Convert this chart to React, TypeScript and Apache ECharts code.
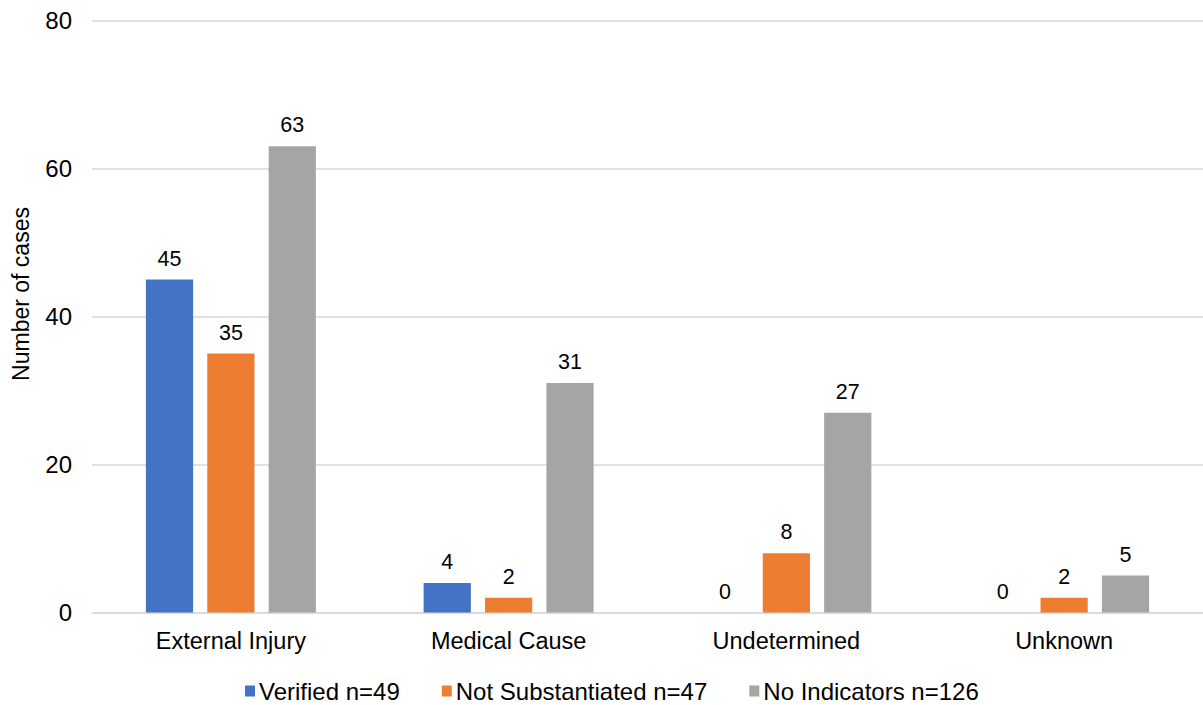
import React, { useEffect, useRef } from "react";
import * as echarts from "echarts";

const categories = ["External Injury", "Medical Cause", "Undetermined", "Unknown"];
const verified = [45, 4, 0, 0];
const notSubstantiated = [35, 2, 8, 2];
const noIndicators = [63, 31, 27, 5];
const seriesNames = ["Verified n=49", "Not Substantiated n=47", "No Indicators n=126"];
const colors = ["#4472C4", "#ED7D31", "#A5A5A5"];
const yAxisTitle = "Number of cases";

const FONT = "Liberation Sans, Arial, sans-serif";

export default function App() {
  const ref = useRef<HTMLDivElement>(null);
  useEffect(() => {
    if (!ref.current) return;
    const chart = echarts.init(ref.current, null, { renderer: "svg" });
    const label = {
      show: true,
      position: "top" as const,
      distance: 10,
      fontSize: 21.5,
      color: "#000",
      fontFamily: FONT,
    };
    const dataSets = [verified, notSubstantiated, noIndicators];
    chart.setOption({
      animation: false,
      textStyle: { fontFamily: FONT },
      grid: { left: 92, right: 0, top: 20.5, bottom: 92.5, containLabel: false },
      graphic: [
        {
          type: "text",
          x: 21,
          y: 294,
          rotation: Math.PI / 2,
          style: {
            text: yAxisTitle,
            fontSize: 23,
            fill: "#000",
            fontFamily: FONT,
            align: "center",
            verticalAlign: "middle",
          },
        },
      ],
      legend: {
        left: 240,
        top: 674,
        padding: [5, 5, 3, 5],
        itemWidth: 10,
        itemHeight: 11,
        itemGap: 42,
        icon: "rect",
        textStyle: { fontSize: 24, lineHeight: 24, color: "#000", fontFamily: FONT, padding: [0, 0, 0, -1] },
        data: seriesNames,
      },
      xAxis: {
        type: "category",
        data: categories,
        axisLine: { show: true, lineStyle: { color: "#D9D9D9", width: 1.5 } },
        axisTick: { show: false },
        axisLabel: { fontSize: 23.5, color: "#000", margin: 16, fontFamily: FONT },
      },
      yAxis: {
        type: "value",
        min: 0,
        max: 80,
        interval: 20,
        axisLine: { show: false },
        axisTick: { show: false },
        axisLabel: { fontSize: 24, color: "#000", margin: 20, fontFamily: FONT },
        splitLine: { lineStyle: { color: "#D9D9D9", width: 1.5 } },
      },
      series: seriesNames.map((name, i) => ({
        name,
        type: "bar",
        data: dataSets[i],
        barWidth: "17%",
        barGap: "30%",
        itemStyle: { color: colors[i] },
        label,
      })),
    });
    return () => chart.dispose();
  }, []);
  return <div ref={ref} style={{ width: 1203, height: 705, position: "absolute", left: 0, top: 0 }} />;
}
